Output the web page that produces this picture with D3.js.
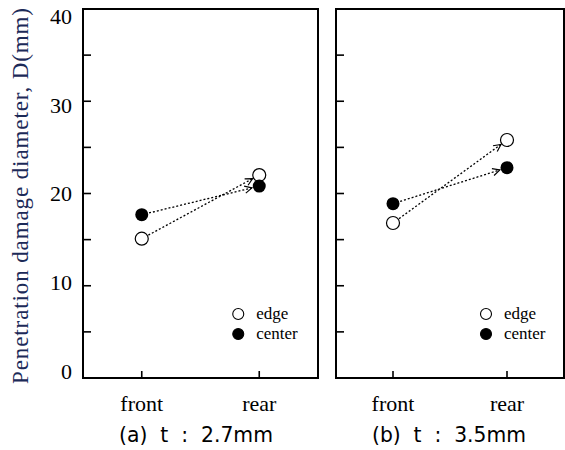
<!DOCTYPE html>
<html>
<head>
<meta charset="utf-8">
<script src="https://cdn.jsdelivr.net/npm/d3@7"></script>
<style>
  body { margin: 0; background: #fff; }
  svg { display: block; }
</style>
</head>
<body>
<script>
(function () {

  // data
  var positions = ["front", "rear"];
  var panelNames = ["(a) t : 2.7mm", "(b) t : 3.5mm"];
  var edgeA = [15.1, 22.0];
  var centerA = [17.7, 20.8];
  var edgeB = [16.8, 25.8];
  var centerB = [18.9, 22.8];
  var yTicks = [0, 10, 20, 30, 40];
  var yMinorTicks = [0, 5, 10, 15, 20, 25, 30, 35, 40];
  var seriesNames = ["edge", "center"];

  var width = 565, height = 450;
  var top = 9, bottom = 378;

  var svg = d3.select("body").append("svg")
    .attr("width", width)
    .attr("height", height);

  var defs = svg.append("defs");
  defs.append("marker")
    .attr("id", "arrow")
    .attr("viewBox", "0 0 10 10")
    .attr("refX", 9)
    .attr("refY", 5)
    .attr("markerWidth", 9)
    .attr("markerHeight", 9)
    .attr("markerUnits", "userSpaceOnUse")
    .attr("orient", "auto")
    .append("path")
    .attr("d", "M1,1 L9,5 L1,9")
    .attr("fill", "none")
    .attr("stroke", "#000")
    .attr("stroke-width", 1.3);

  var y = d3.scaleLinear().domain([0, 40]).range([bottom, top]);
  // tick labels sit a little inside the end ticks
  var yLab = d3.scaleLinear().domain([0, 40]).range([bottom - 7, top + 7]);

  var panels = [
    { left: 83, right: 318, edge: edgeA, center: centerA, name: panelNames[0] },
    { left: 336, right: 564, edge: edgeB, center: centerB, name: panelNames[1] }
  ];

  // y axis labels on the first panel
  svg.append("g")
    .selectAll("text")
    .data(yTicks)
    .enter()
    .append("text")
    .attr("x", 72)
    .attr("y", function (d) { return yLab(d); })
    .attr("dy", "0.36em")
    .attr("text-anchor", "end")
    .style("font-family", "'Liberation Serif', serif")
    .style("font-size", "22px")
    .text(function (d) { return d; });

  svg.append("text")
    .attr("transform", "translate(28,196) rotate(-90)")
    .attr("text-anchor", "middle")
    .attr("textLength", 376)
    .attr("lengthAdjust", "spacing")
    .style("font-family", "'Liberation Serif', serif")
    .style("font-size", "23px")
    .style("fill", "#1c2a58")
    .text("Penetration damage diameter, D(mm)");

  panels.forEach(function (p) {
    var x = d3.scalePoint().domain(positions).range([p.left, p.right]).padding(0.5);
    var g = svg.append("g");

    // frame
    g.append("rect")
      .attr("x", p.left)
      .attr("y", top)
      .attr("width", p.right - p.left)
      .attr("height", bottom - top)
      .attr("fill", "none")
      .attr("stroke", "#000")
      .attr("stroke-width", 2);

    // inner ticks on the left edge
    g.selectAll(".ytick")
      .data(yMinorTicks.slice(1, -1))
      .enter()
      .append("line")
      .attr("x1", p.left)
      .attr("x2", p.left + 8)
      .attr("y1", function (d) { return y(d); })
      .attr("y2", function (d) { return y(d); })
      .attr("stroke", "#000")
      .attr("stroke-width", 1.6);

    // inner ticks on the bottom
    g.selectAll(".xtick")
      .data(positions)
      .enter()
      .append("line")
      .attr("x1", function (d) { return x(d); })
      .attr("x2", function (d) { return x(d); })
      .attr("y1", bottom)
      .attr("y2", bottom - 7)
      .attr("stroke", "#000")
      .attr("stroke-width", 1.6);

    g.selectAll(".xlabel")
      .data(positions)
      .enter()
      .append("text")
      .attr("x", function (d) { return x(d); })
      .attr("y", 411)
      .attr("text-anchor", "middle")
      .style("font-family", "'Liberation Serif', serif")
      .style("font-size", "22px")
      .text(function (d) { return d; });

    g.append("text")
      .attr("x", p.left + 36)
      .attr("y", 442)
      .attr("textLength", 154)
      .attr("lengthAdjust", "spacingAndGlyphs")
      .style("font-family", "'DejaVu Sans', sans-serif")
      .style("font-size", "21px")
      .style("white-space", "pre")
      .text(p.name.replace(" t : ", "  t  :  "));

    // dotted arrows front -> rear
    var r = 6.5;
    [p.edge, p.center].forEach(function (vals) {
      var x0 = x(positions[0]), y0 = y(vals[0]);
      var x1 = x(positions[1]), y1 = y(vals[1]);
      var dx = x1 - x0, dy = y1 - y0, len = Math.sqrt(dx * dx + dy * dy);
      g.append("line")
        .attr("x1", x0 + dx / len * (r + 1))
        .attr("y1", y0 + dy / len * (r + 1))
        .attr("x2", x1 - dx / len * (r + 1))
        .attr("y2", y1 - dy / len * (r + 1))
        .attr("stroke", "#000")
        .attr("stroke-width", 1.3)
        .attr("stroke-dasharray", "2,2")
        .attr("marker-end", "url(#arrow)");
    });

    // markers
    g.selectAll(".edge")
      .data(p.edge)
      .enter()
      .append("circle")
      .attr("cx", function (d, i) { return x(positions[i]); })
      .attr("cy", function (d) { return y(d); })
      .attr("r", r)
      .attr("fill", "#fff")
      .attr("stroke", "#000")
      .attr("stroke-width", 1.2);

    g.selectAll(".center")
      .data(p.center)
      .enter()
      .append("circle")
      .attr("cx", function (d, i) { return x(positions[i]); })
      .attr("cy", function (d) { return y(d); })
      .attr("r", r)
      .attr("fill", "#000");

    // legend
    var lx = x(positions[1]) - 21;
    seriesNames.forEach(function (s, i) {
      var ly = 314 + i * 20;
      g.append("circle")
        .attr("cx", lx)
        .attr("cy", ly)
        .attr("r", 5.5)
        .attr("fill", i === 0 ? "#fff" : "#000")
        .attr("stroke", "#000")
        .attr("stroke-width", 1.1);
      g.append("text")
        .attr("x", lx + 18)
        .attr("y", ly)
        .attr("dy", "0.32em")
        .style("font-family", "'Liberation Serif', serif")
        .style("font-size", "17px")
        .text(s);
    });
  });

})();
</script>
</body>
</html>
